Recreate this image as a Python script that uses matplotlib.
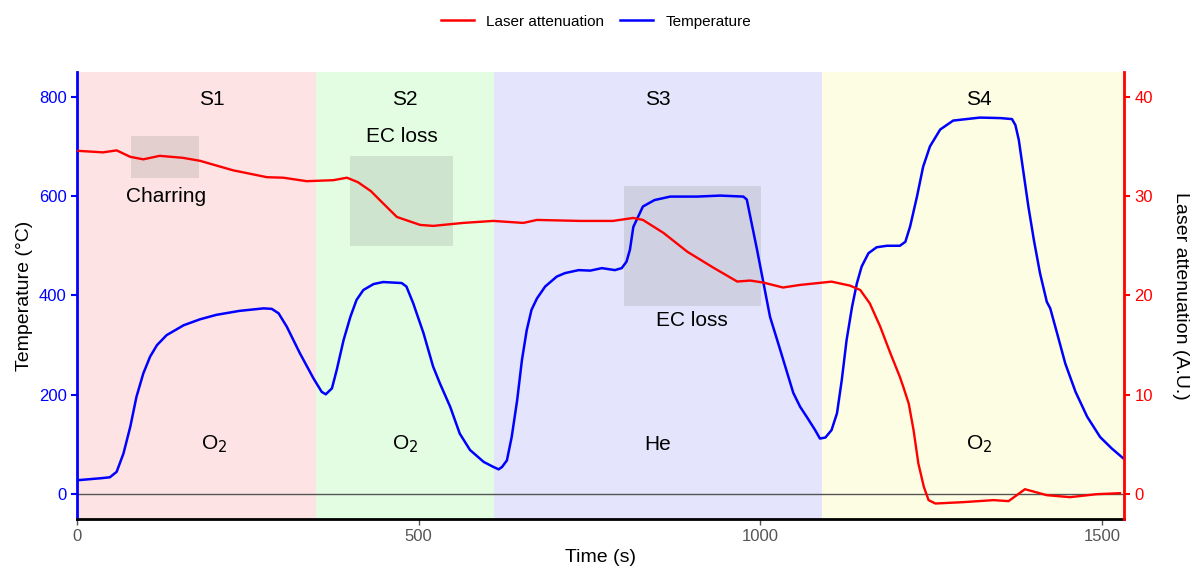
import matplotlib
matplotlib.use("Agg")
import matplotlib.pyplot as plt
from matplotlib.lines import Line2D

plt.rcParams['font.family'] = ['Liberation Sans', 'DejaVu Sans']

# ---- data ----
temp_t = [0, 34, 48, 58, 68, 78, 87, 97, 107, 117, 131, 156, 180, 204, 238, 273, 285, 295, 307, 326,
          346, 358, 364, 373, 380, 390, 400, 409, 419, 434, 448, 475, 482, 492, 507, 521, 531, 546,
          560, 575, 595, 609, 617, 622, 629, 636, 644, 651, 658, 665, 673, 685, 702, 714, 734, 751,
          768, 787, 797, 804, 809, 814, 828, 845, 868, 907, 941, 975, 980, 995, 1014, 1029, 1048,
          1058, 1068, 1080, 1087, 1095, 1104, 1112, 1119, 1126, 1134, 1141, 1148, 1158, 1170, 1185,
          1204, 1212, 1219, 1229, 1238, 1248, 1263, 1282, 1321, 1351, 1368, 1373, 1378, 1385, 1392,
          1400, 1409, 1419, 1424, 1434, 1446, 1461, 1478, 1497, 1514, 1531]
temp_v = [28, 32, 34, 45, 82, 136, 196, 243, 277, 300, 320, 340, 352, 361, 369, 374, 373, 364, 337,
          284, 233, 206, 201, 213, 250, 310, 357, 391, 411, 423, 427, 425, 418, 384, 324, 257, 223,
          176, 122, 89, 65, 55, 50, 55, 68, 115, 189, 270, 330, 371, 394, 418, 438, 445, 451, 450,
          455, 451, 455, 468, 492, 538, 579, 592, 599, 599, 601, 599, 593, 492, 357, 290, 204,
          176, 155, 129, 112, 114, 129, 163, 230, 310, 377, 424, 458, 485, 497, 500,
          500, 508, 539, 599, 659, 700, 734, 752, 758, 757, 755, 743, 713, 646, 579,
          512, 445, 387, 374, 324, 263, 206, 156, 115, 92, 72]

laser_t = [0, 38, 58, 78, 97, 121, 155, 180, 228, 278, 302, 336, 375, 395, 411, 430, 443, 468, 502,
           521, 565, 609, 653, 673, 736, 784, 814, 828, 858, 893, 931, 966, 985, 1004, 1033, 1058,
           1082, 1104, 1131, 1146, 1160, 1175, 1190, 1204, 1209, 1217, 1224, 1231, 1239, 1246, 1256,
           1297, 1341, 1363, 1375, 1387, 1419, 1453, 1492, 1526]
laser_v = [34.56, 34.4, 34.6, 33.95, 33.7, 34.05, 33.85, 33.55, 32.6, 31.9, 31.85, 31.5, 31.6, 31.85,
           31.4, 30.5, 29.6, 27.9, 27.1, 27.0, 27.3, 27.5, 27.3, 27.6, 27.5, 27.5, 27.8, 27.6, 26.3,
           24.4, 22.8, 21.4, 21.5, 21.3, 20.8, 21.06, 21.23, 21.39, 20.99, 20.55, 19.2, 16.9, 14.2,
           11.8, 10.8, 9.1, 6.45, 3.1, 0.75, -0.6, -0.94, -0.8, -0.6, -0.7, -0.1, 0.5, -0.1, -0.3,
           0.0, 0.1]

stage_bounds = [0, 350, 610, 1090, 1532]
stage_names = ['S1', 'S2', 'S3', 'S4']
stage_colors = ['#fde3e3', '#e3fde3', '#e4e4fc', '#fdfde4']
stage_label_x = [197, 480, 850, 1320]
gas_labels = ['O$_2$', 'O$_2$', 'He', 'O$_2$']
gas_label_x = [200, 480, 850, 1320]

boxes = [(79, 179, 637, 720), (400, 550, 500, 680), (800, 1001, 379, 621)]
box_texts = [('Charring', 130, 600), ('EC loss', 475, 720), ('EC loss', 900, 350)]

# ---- figure ----
fig = plt.figure(figsize=(11.92, 5.66), dpi=100)
ax = fig.add_axes([0.0646, 0.083, 0.8784, 0.79])
ax2 = ax.twinx()

for i in range(4):
    ax.axvspan(stage_bounds[i], stage_bounds[i + 1], color=stage_colors[i], lw=0, zorder=0)
    ax.text(stage_label_x[i], 795, stage_names[i], ha='center', va='center', fontsize=15)
    ax.text(gas_label_x[i], 100, gas_labels[i], ha='center', va='center', fontsize=15)

for (x0, x1, y0, y1) in boxes:
    ax.fill_between([x0, x1], y0, y1, color='#808080', alpha=0.2, lw=0, zorder=1)
for (txt, x, y) in box_texts:
    ax.text(x, y, txt, ha='center', va='center', fontsize=15)

ax.axhline(0, color='#555555', lw=1, zorder=2)

ax.plot(temp_t, temp_v, color='blue', lw=1.8, zorder=3, solid_joinstyle='round')
ax2.plot(laser_t, laser_v, color='red', lw=1.7, zorder=3, solid_joinstyle='round')

ax.set_xlim(0, 1532)
ax.set_ylim(-50, 850)
ax2.set_ylim(-2.5, 42.5)
ax.set_xticks([0, 500, 1000, 1500])
ax.set_yticks([0, 200, 400, 600, 800])
ax2.set_yticks([0, 10, 20, 30, 40])

ax.set_xlabel('Time (s)', fontsize=14, labelpad=3)
ax.set_ylabel('Temperature (°C)', fontsize=14)
ax2.set_ylabel('Laser attenuation (A.U.)', fontsize=14, rotation=270, labelpad=26)

for a in (ax, ax2):
    a.spines['top'].set_visible(False)
ax.spines['left'].set_color('blue')
ax.spines['left'].set_linewidth(2)
ax.spines['right'].set_visible(False)
ax2.spines['right'].set_color('red')
ax2.spines['right'].set_linewidth(2)
ax2.spines['left'].set_visible(False)
ax.spines['bottom'].set_linewidth(2)
ax.spines['bottom'].set_color('black')
ax2.spines['bottom'].set_visible(False)

ax.tick_params(axis='y', colors='blue', labelsize=12, length=4, width=1.5)
ax2.tick_params(axis='y', colors='red', labelsize=12, length=4, width=1.5)
ax.tick_params(axis='x', colors='#555555', labelsize=12, length=4, width=1)
ax.xaxis.label.set_color('black')
ax.yaxis.label.set_color('black')
ax2.yaxis.label.set_color('black')

handles = [Line2D([0], [0], color='red', lw=1.8), Line2D([0], [0], color='blue', lw=1.8)]
fig.legend(handles, ['Laser attenuation', 'Temperature'], loc='center', bbox_to_anchor=(0.5, 0.962),
           ncol=2, frameon=False, fontsize=11, handlelength=2.2, columnspacing=1.0)

fig.savefig('out.png', dpi=100)
